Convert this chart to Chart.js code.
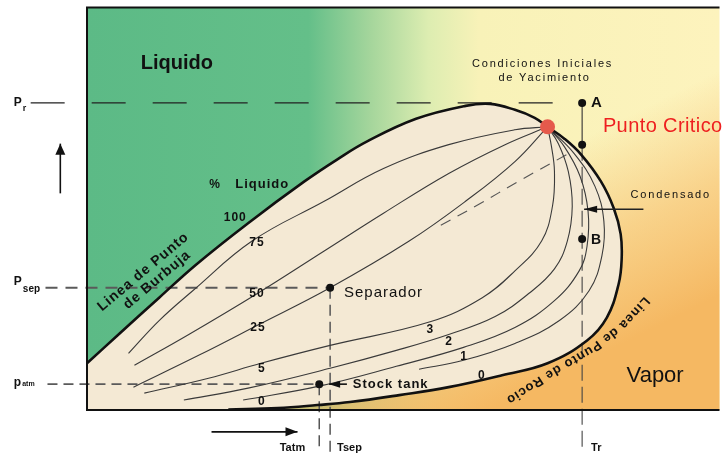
<!DOCTYPE html>
<html><head><meta charset="utf-8">
<script src="https://cdn.jsdelivr.net/npm/chart.js@4.4.0/dist/chart.umd.min.js"></script>
<style>html,body{margin:0;padding:0;background:#fff;}canvas{display:block;}</style>
</head><body>
<canvas id="c" width="727" height="456" style="width:727px;height:456px"></canvas>
<script>
// Diagram units: T (temperature, arbitrary) and P (pressure, arbitrary)
const bubbleLine = [[0,47],[33,77],[73,113],[110,146],[163,188],[220,230],[253,252],[283,270],[333,293],[383,306],[408,308],[433,302],[453,294],[466,285]];
const dewLine = [[466,285],[483,273],[500,257],[520,230],[533,203],[540,177],[541,152],[538,127],[526,93],[506,70],[466,47],[420,35],[366,23],[316,15],[266,8],[233,5],[193,2],[143,0.5]];
const criticalPoint = [[466,285]];
const liq75 = [[42,57],[73,90],[107,120],[167,170],[240,210],[300,243],[366,267],[433,282],[466,285]];
const liq50 = [[48,45],[103,76],[172,117],[240,160],[300,198],[366,238],[423,267],[466,285]];
const liq25 = [[47,23],[113,55],[172,85],[246,123],[326,170],[383,210],[433,250],[466,285]];
const liq5 = [[58,17],[123,32],[176,47],[246,65],[348,89],[400,113],[433,140],[460,170],[471,205],[473,240],[470,265],[466,285]];
const liq3 = [[98,10],[163,22],[246,42],[313,60],[366,76],[413,94],[448,118],[473,142],[486,170],[491,205],[487,240],[477,268],[466,285]];
const liq2 = [[158,10],[235,24],[313,44],[381,63],[433,83],[473,110],[498,140],[506,165],[507,200],[499,235],[483,265],[466,285]];
const liq1 = [[336,41],[381,50],[433,67],[478,90],[508,120],[521,155],[523,190],[514,225],[493,258],[466,285]];
const isoDashed = [[358,186],[393,205],[440,232],[491,260]];
const stateA = [[501,309]], stateMid = [[501,267]], stateB = [[501,172]];
const separatorPt = [[246,123]], stockTankPt = [[235,26]];
const pReservoir = 309, pSeparator = 123, pAtm = 26;
const tReservoir = 501, tSeparator = 246, tAtm = 235;
const leftQualityTicks = ['100','75','50','25','5','0'];
const rightQualityTicks = ['3','2','1','0'];
const upArrow = [[-27,218],[-27,268]];
const rightArrow = [[126,-22],[213,-22]];
const condArrow = [[563,202],[503,202]];
const stockArrow = [[263,26],[245,26]];
const dewTextPath = [[566,111],[541,84],[509,60],[471,38],[427,10]];

const FF = '"Liberation Sans", Arial, sans-serif';
const xy = a => a.map(([x,y]) => ({x, y}));
function curve(data, o) {
  return Object.assign({data: xy(data), showLine: true, pointRadius: 0, tension: 0.4, fill: false,
    borderColor: '#3a3a3a', borderWidth: 1.1, order: 0}, o || {});
}
function pts(data, r, col) {
  return {data: xy(data), showLine: false, pointRadius: r, pointBackgroundColor: col, pointBorderColor: col,
    pointBorderWidth: 0, order: -10, clip: false};
}
const envelope = bubbleLine.concat(dewLine.slice(1)).concat([[0,0.5]]);

const datasets = [
  curve(envelope, {fill: 'shape', backgroundColor: '#f4e9d4', borderWidth: 0, borderColor: 'rgba(0,0,0,0)', order: 100}),
  curve(liq75), curve(liq50), curve(liq25), curve(liq5), curve(liq3), curve(liq2), curve(liq1),
  curve(isoDashed, {borderDash: [11, 8], borderColor: '#555'}),
  curve(bubbleLine, {borderColor: '#111', borderWidth: 2.6, order: -1}),
  curve(dewLine, {borderColor: '#111', borderWidth: 2.6, order: -1}),
  curve([[-57,pReservoir],[tReservoir,pReservoir]], {tension: 0, borderColor: '#222', borderWidth: 1.1, borderDash: [34,27], clip: false}),
  curve([[-42,pSeparator],[tSeparator,pSeparator]], {tension: 0, borderColor: '#5a5a5a', borderWidth: 1.8, borderDash: [12,8], clip: false}),
  curve([[-40,pAtm],[tAtm,pAtm]], {tension: 0, borderColor: '#5a5a5a', borderWidth: 1.8, borderDash: [10,6], clip: false}),
  curve([[tReservoir,pReservoir],[tReservoir,267]], {tension: 0, borderColor: '#333', borderWidth: 1.1, clip: false}),
  curve([[tReservoir,267],[tReservoir,-42]], {tension: 0, borderColor: '#444', borderWidth: 1.1, borderDash: [16,6], clip: false}),
  curve([[tSeparator,pSeparator],[tSeparator,-42]], {tension: 0, borderColor: '#555', borderWidth: 1.5, borderDash: [11,6], clip: false}),
  curve([[tAtm,pAtm],[tAtm,-42]], {tension: 0, borderColor: '#555', borderWidth: 1.5, borderDash: [11,6], clip: false}),
  curve(upArrow, {tension: 0, borderColor: '#111', borderWidth: 1.6, clip: false, order: -5}),
  curve(rightArrow, {tension: 0, borderColor: '#111', borderWidth: 1.6, clip: false, order: -5}),
  curve(condArrow, {tension: 0, borderColor: '#222', borderWidth: 1.3, clip: false, order: -5}),
  curve(stockArrow, {tension: 0, borderColor: '#111', borderWidth: 1.6, clip: false, order: -5}),
  pts(stateA, 4, '#111'), pts(stateMid, 4, '#111'), pts(stateB, 4, '#111'),
  pts(separatorPt, 4, '#111'), pts(stockTankPt, 4, '#111'),
  pts(criticalPoint, 7.5, '#e55a4c')
];
const arrowHeads = [
  {line: upArrow, len: 11, half: 5},
  {line: rightArrow, len: 12, half: 4.5},
  {line: condArrow, len: 13, half: 3.5},
  {line: stockArrow, len: 11, half: 3.5}
];

const leftTickPos = [[150,194],[172,168],[172,117],[173,83],[177,42],[177,8]];
const rightTickPos = [[347,81],[366,69],[381,54],[399,35]];
const annotations = [
  {text:'Liquido', T:91, P:349, font:'bold 20px'},
  {text:'Condiciones Iniciales', T:461, P:348, font:'11px', ls:'1.8px'},
  {text:'de Yacimiento', T:463, P:334, font:'11px', ls:'1.8px'},
  {text:'A', T:510, P:309, font:'bold 15px', align:'left'},
  {text:'Punto Critico', T:522, P:285, font:'20px', ls:'0.4px', color:'#ee2020', align:'left'},
  {text:'Condensado', T:550, P:216, font:'11px', ls:'1.8px', align:'left'},
  {text:'B', T:510, P:171, font:'bold 14px', align:'left'},
  {text:'%', T:129, P:227, font:'bold 12px'},
  {text:'Liquido', T:150, P:227, font:'bold 13px', ls:'1px', align:'left'},
  {text:'Separador', T:260, P:118, font:'15px', ls:'1px', align:'left'},
  {text:'Stock tank', T:269, P:26, font:'bold 13px', ls:'1px', align:'left'},
  {text:'Vapor', T:546, P:34, font:'22px', align:'left'},
  {text:'Linea de Punto', T:57, P:139, font:'bold 14px', ls:'1px', rot:-40},
  {text:'de Burbuja', T:71, P:131, font:'bold 14px', ls:'1px', rot:-40},
  {text:'P', sub:'r', T:-74, P:309, font:'bold 12px', subFont:'bold 9px', subDy:6, align:'left'},
  {text:'P', sub:'sep', T:-74, P:129, font:'bold 12px', subFont:'bold 10px', subDy:7, align:'left'},
  {text:'p', sub:'atm', T:-74, P:27, font:'bold 12px', subFont:'bold 7px', subDy:1, align:'left'},
  {text:'Tatm', T:195, P:-38, font:'bold 11px', align:'left'},
  {text:'Tsep', T:253, P:-38, font:'bold 11px', align:'left'},
  {text:'Tr', T:510, P:-38, font:'bold 11px', align:'left'}
];
leftQualityTicks.forEach((t,i) => annotations.push({text:t, T:leftTickPos[i][0], P:leftTickPos[i][1], font:'bold 12px', ls:'1px'}));
rightQualityTicks.forEach((t,i) => annotations.push({text:t, T:rightTickPos[i][0], P:rightTickPos[i][1], font:'bold 12px'}));

function textOnPath(ctx, text, path, font, spacing) {
  ctx.save();
  ctx.font = font; ctx.textAlign = 'center'; ctx.textBaseline = 'middle'; ctx.fillStyle = '#111';
  const seg = []; let total = 0;
  for (let i = 1; i < path.length; i++) {
    const dx = path[i][0] - path[i-1][0], dy = path[i][1] - path[i-1][1];
    const l = Math.hypot(dx, dy); seg.push({l, dx, dy, x0: path[i-1][0], y0: path[i-1][1], s0: total}); total += l;
  }
  const widths = [...text].map(ch => ctx.measureText(ch).width + spacing);
  const tw = widths.reduce((a, b) => a + b, 0) - spacing;
  let s = (total - tw) / 2;
  [...text].forEach((ch, i) => {
    const mid = s + (widths[i] - spacing) / 2;
    let k = seg.findIndex(g => mid <= g.s0 + g.l); if (k < 0) k = seg.length - 1;
    const g = seg[k], f = (mid - g.s0) / g.l;
    ctx.save();
    ctx.translate(g.x0 + g.dx * f, g.y0 + g.dy * f);
    ctx.rotate(Math.atan2(g.dy, g.dx));
    ctx.fillText(ch, 0, 0);
    ctx.restore();
    s += widths[i];
  });
  ctx.restore();
}

const bgPlugin = {
  id: 'bg',
  beforeDatasetsDraw(chart) {
    const {ctx, chartArea: a} = chart;
    ctx.save();
    const g = ctx.createLinearGradient(a.left, 0, a.right, 0);
    g.addColorStop(0, '#5cba86');
    g.addColorStop(0.35, '#64bf89');
    g.addColorStop(0.45, '#a6d69c');
    g.addColorStop(0.54, '#ddedb1');
    g.addColorStop(0.62, '#f8f2b8');
    g.addColorStop(1, '#fdf3bd');
    ctx.fillStyle = g;
    ctx.fillRect(a.left, a.top, a.right - a.left, a.bottom - a.top);
    const o = ctx.createLinearGradient(560, 150, 650, 330);
    o.addColorStop(0, 'rgba(246,186,102,0)');
    o.addColorStop(0.5, 'rgba(246,188,104,0.6)');
    o.addColorStop(1, 'rgba(245,184,98,1)');
    ctx.fillStyle = o;
    ctx.fillRect(a.left, a.top, a.right - a.left, a.bottom - a.top);
    ctx.restore();
  },
  afterDatasetsDraw(chart) {
    const {ctx, chartArea: a, scales: {x, y}} = chart;
    ctx.save();
    ctx.strokeStyle = '#111';
    ctx.lineWidth = 2;
    ctx.beginPath();
    ctx.moveTo(a.right, a.top); ctx.lineTo(a.left, a.top); ctx.lineTo(a.left, a.bottom); ctx.lineTo(a.right, a.bottom);
    ctx.stroke();
    ctx.fillStyle = '#111';
    for (const h of arrowHeads) {
      const p0 = h.line[0], p1 = h.line[h.line.length - 1];
      const x0 = x.getPixelForValue(p0[0]), y0 = y.getPixelForValue(p0[1]);
      const x1 = x.getPixelForValue(p1[0]), y1 = y.getPixelForValue(p1[1]);
      const L = Math.hypot(x1 - x0, y1 - y0), ux = (x1 - x0) / L, uy = (y1 - y0) / L;
      const bx = x1 - ux * h.len, by = y1 - uy * h.len;
      ctx.beginPath();
      ctx.moveTo(x1, y1);
      ctx.lineTo(bx - uy * h.half, by + ux * h.half);
      ctx.lineTo(bx + uy * h.half, by - ux * h.half);
      ctx.closePath(); ctx.fill();
    }
    ctx.restore();
  },
  afterDraw(chart) {
    const {ctx, scales: {x, y}} = chart;
    for (const an of annotations) {
      const px = x.getPixelForValue(an.T), py = y.getPixelForValue(an.P);
      ctx.save();
      ctx.translate(px, py);
      if (an.rot) ctx.rotate(an.rot * Math.PI / 180);
      ctx.font = an.font + ' ' + FF;
      ctx.fillStyle = an.color || '#111';
      ctx.textAlign = an.align || 'center';
      ctx.textBaseline = 'middle';
      ctx.letterSpacing = an.ls || '0px';
      ctx.fillText(an.text, 0, 0);
      if (an.sub) {
        const w = ctx.measureText(an.text).width;
        ctx.font = an.subFont + ' ' + FF;
        ctx.textAlign = 'left';
        ctx.fillText(an.sub, w + 1, an.subDy);
      }
      ctx.restore();
    }
    const path = dewTextPath.map(([t, p]) => [x.getPixelForValue(t), y.getPixelForValue(p)]);
    textOnPath(ctx, 'Linea de Punto de Rocio', path, 'bold 13px ' + FF, 1);
  }
};

new Chart(document.getElementById('c'), {
  type: 'scatter',
  data: {datasets},
  options: {
    responsive: false, animation: false, events: [],
    layout: {padding: {left: 87, right: 0, top: 5, bottom: 46}},
    scales: {
      x: {type: 'linear', min: 0, max: 640, display: false},
      y: {type: 'linear', min: 0, max: 405, display: false}
    },
    plugins: {legend: {display: false}, tooltip: {enabled: false}}
  },
  plugins: [bgPlugin]
});
</script>
</body></html>
